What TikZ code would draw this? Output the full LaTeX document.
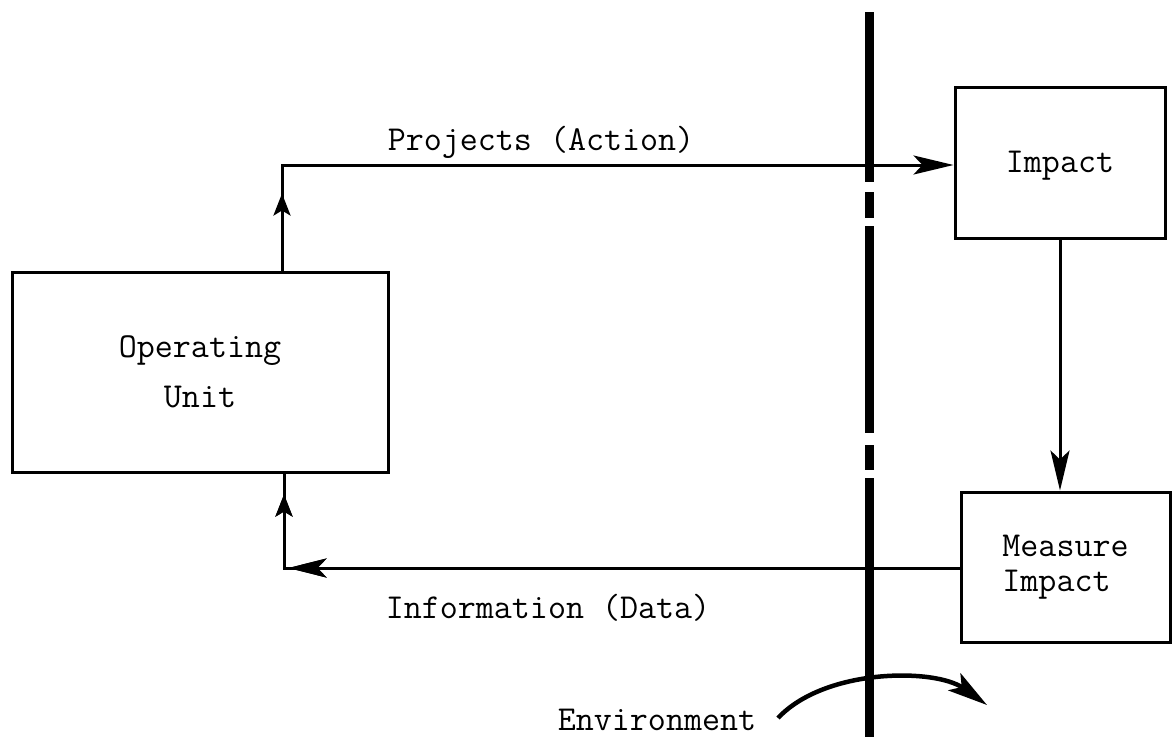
\documentclass[tikz,border=0pt]{standalone}
\usepackage{fontspec}
\usetikzlibrary{arrows.meta,decorations.markings}
\begin{document}
\begin{tikzpicture}[x=1pt,y=-1pt,
  txt/.style={font=\ttfamily\fontsize{35}{35}\selectfont},
  box/.style={draw, line width=3pt, inner sep=0pt, txt},
  conn/.style={line width=3pt},
  bigtip/.style={-{Stealth[length=40pt,width=19pt,inset=9pt]}},
  midtip/.style={postaction={decorate},
    decoration={markings, mark=at position #1 with {\arrow{Stealth[length=38pt,width=19pt,inset=9pt]}}}},
  smalltip/.style={postaction={decorate},
    decoration={markings, mark=at position #1 with {\arrow{Stealth[length=22pt,width=17pt,inset=5pt]}}}}
]
\fill[white] (0,0) rectangle (1172,740);
\useasboundingbox (0,0) rectangle (1172,740);

% boxes
\node[box, minimum width=376pt, minimum height=200pt, align=center,
      font=\ttfamily\fontsize{35}{50}\selectfont] (OU) at (200,372) {Operating\\Unit};
\node[box, minimum width=210pt, minimum height=151pt, text depth=2pt] (IM) at (1060,162.5) {Impact};
\node[box, minimum width=209pt, minimum height=150pt, align=left] (MI) at (1065.5,567) {Measure\\Impact};

% environment boundary
\coordinate (bt) at (869,12);
\coordinate (bb) at (869,737);
\draw[line width=9pt, dash pattern=on 170pt off 10pt on 26pt off 8pt on 207pt off 12pt on 25pt off 8pt on 259pt] (bt) -- (bb);

% connectors
\coordinate (c1) at (282,165);
\coordinate (c2) at (284,568);
\draw[conn, bigtip, smalltip=77pt] (c1 |- OU.north) -- (c1) -- (c1 -| IM.west);
\draw[conn, bigtip] (IM.south) -- (MI.north -| IM.south);
\draw[conn, midtip=671pt, smalltip=749pt] (MI.west |- c2) -- (c2) -- (c2 |- OU.south);

% labels
\node[txt, anchor=base] (lp) at (541,150) {Projects (Action)};
\node[txt, anchor=base] (li) at (548,618) {Information (Data)};
\node[txt, anchor=base] (env) at (657,730) {Environment};

% environment arrow
\coordinate (e1) at (778,718);
\coordinate (e2) at (987,705);
\draw[line width=4.5pt, -{Stealth[length=40pt,width=21pt,inset=9pt]}] (e1) .. controls (825,668) and (935,668) .. (e2);
\end{tikzpicture}
\end{document}
